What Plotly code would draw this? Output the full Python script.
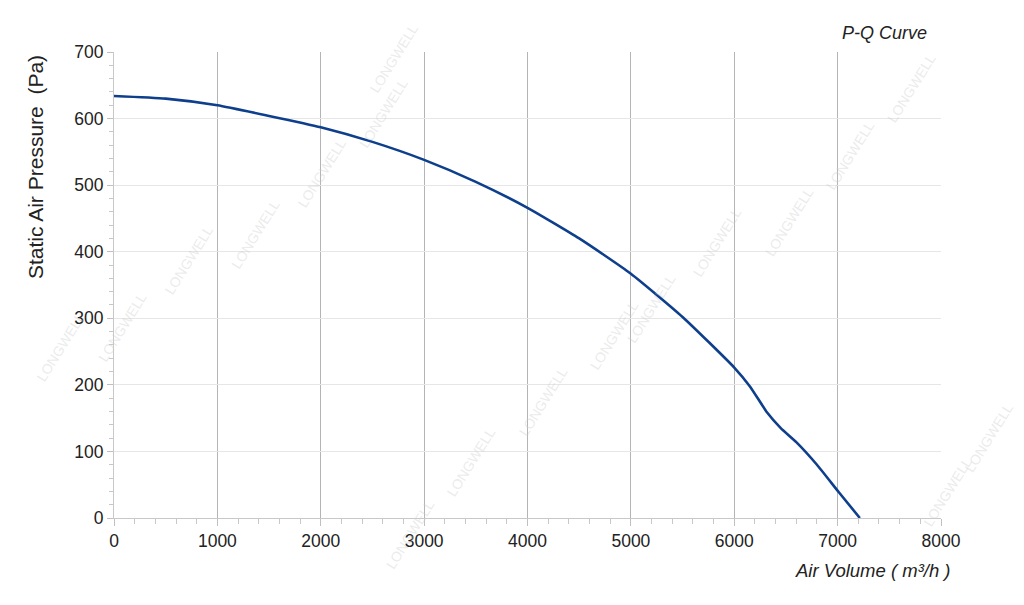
import plotly.graph_objects as go

air_volume = [0, 500, 1000, 1500, 2000, 2500, 3000, 3500, 4000, 4500, 5000, 5500, 6000, 6150, 6320, 6450, 6600, 6800, 7010, 7215]
pressure = [634, 630, 620, 604, 587, 565, 538, 505, 466, 420, 367, 302, 226, 198, 158, 135, 114, 80, 39, 0]

x_ticks = [0, 1000, 2000, 3000, 4000, 5000, 6000, 7000, 8000]
y_ticks = [0, 100, 200, 300, 400, 500, 600, 700]

watermark_pos = [
    (0.03, 0.36), (0.09, 0.46), (0.155, 0.57), (0.22, 0.68), (0.285, 0.78), (0.345, 0.88), (0.385, 0.97),
    (0.40, 0.05), (0.46, 0.17), (0.53, 0.27), (0.60, 0.38), (0.665, 0.49), (0.73, 0.60), (0.80, 0.70), (0.86, 0.81), (0.92, 0.92),
    (0.955, 0.12), (0.995, 0.21),
]

font_family = "Liberation Sans, Arial, sans-serif"

# page offset (browser body margin)
OFF = 8
W, H = 1024, 605
L, R, T, B = 114 - OFF, 91, 52 - OFF, 95
pw, ph = W - L - R, H - T - B


def to_paper(px, py):
    return (px - OFF - L) / pw, 1 - (py - OFF - T) / ph


fig = go.Figure()
fig.add_trace(go.Scatter(
    x=air_volume, y=pressure, mode="lines",
    line=dict(color="#0e3f8c", width=2.6, shape="spline", smoothing=0.5),
    hoverinfo="x+y", showlegend=False,
))

fig.update_layout(
    width=W, height=H,
    margin=dict(l=L, r=R, t=T, b=B),
    paper_bgcolor="white", plot_bgcolor="white",
    font=dict(family=font_family, size=17, color="#222222"),
    xaxis=dict(
        range=[0, 8000], tickvals=x_ticks, ticktext=[str(v) for v in x_ticks],
        showgrid=True, gridcolor="#b4b4b4", gridwidth=1,
        showline=True, linecolor="#c8c8c8", linewidth=1,
        ticks="outside", ticklen=7, tickcolor="#c0c0c0",
        minor=dict(dtick=200, ticks="outside", ticklen=5, tickcolor="#c8c8c8", showgrid=False),
        zeroline=False,
        tickfont=dict(size=17.5, color="#222222"),
    ),
    yaxis=dict(
        range=[0, 700], tickvals=y_ticks, ticktext=[str(v) for v in y_ticks],
        showgrid=True, gridcolor="#e6e6e6", gridwidth=1,
        showline=True, linecolor="#c8c8c8", linewidth=1,
        ticks="outside", ticklen=6, tickcolor="#c0c0c0",
        minor=dict(dtick=20, ticks="outside", ticklen=4, tickcolor="#c8c8c8", showgrid=False),
        zeroline=False,
        tickfont=dict(size=17.5, color="#222222"),
    ),
)

annotations = []
x, y = to_paper(929, 33)
annotations.append(dict(text="<i>P-Q Curve</i>", x=x, y=y, xref="paper", yref="paper", showarrow=False,
                        font=dict(size=18, color="#222222", family=font_family), xanchor="right", yanchor="middle"))
x, y = to_paper(953, 570)
annotations.append(dict(text="<i>Air Volume ( m³/h )</i>", x=x, y=y, xref="paper", yref="paper", showarrow=False,
                        font=dict(size=18.5, color="#222222", family=font_family), xanchor="right", yanchor="middle"))
x, y = to_paper(35, 167)
annotations.append(dict(text="Static Air Pressure  (Pa)", x=x, y=y, xref="paper", yref="paper", showarrow=False,
                        textangle=-90, font=dict(size=21, color="#222222", family=font_family),
                        xanchor="center", yanchor="middle"))

for (fx, fy) in watermark_pos:
    x, y = to_paper(fx * W, (1 - fy) * H)
    annotations.append(dict(text="LONGWELL", x=x, y=y, xref="paper", yref="paper",
                            showarrow=False, textangle=-58,
                            font=dict(size=14, color="rgba(205,205,205,0.4)", family=font_family)))

fig.update_layout(annotations=annotations)
fig.write_html("out.html")
